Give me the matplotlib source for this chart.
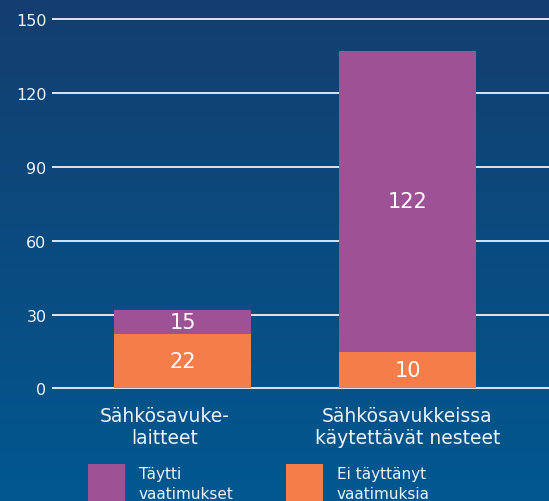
import numpy as np
import matplotlib
matplotlib.use("Agg")
import matplotlib.pyplot as plt
import matplotlib.transforms as mtransforms
from matplotlib.colors import LinearSegmentedColormap

# data
categories = ["Sähkösavuke-\nlaitteet", "Sähkösavukkeissa\nkäytettävät nesteet"]
ei_tayttanyt = [22, 15]      # orange, bottom segment (bar height)
taytti = [10, 122]           # purple, top segment (bar height)
label_ei = ["22", "10"]      # printed labels as in the original
label_taytti = ["15", "122"]
series_names = ["Täytti\nvaatimukset", "Ei täyttänyt\nvaatimuksia"]
yticks = [0, 30, 60, 90, 120, 150]

c_purple = "#9e5296"
c_orange = "#f47d4a"
c_text = "#eef3f8"
c_grid = "#dde5ee"

plt.rcParams["font.family"] = "DejaVu Sans"

fig = plt.figure(figsize=(5.49, 5.02), dpi=100)

# gradient background
bg = fig.add_axes([0, 0, 1, 1], zorder=-10)
cmap = LinearSegmentedColormap.from_list("bg", ["#143e6f", "#015890"])
grad = np.linspace(0, 1, 256).reshape(-1, 1)
bg.imshow(grad, aspect="auto", cmap=cmap, extent=[0, 1, 0, 1], origin="upper")
bg.set_axis_off()

ax = fig.add_axes([52 / 549, 0.2192, 1 - 52 / 549, 0.7459])
ax.set_facecolor("none")
x = np.arange(len(categories))
w = 0.609

b1 = ax.bar(x, ei_tayttanyt, width=w, color=c_orange, zorder=3)
b2 = ax.bar(x, taytti, width=w, bottom=ei_tayttanyt, color=c_purple, zorder=3)

for i in range(len(x)):
    ax.text(x[i], ei_tayttanyt[i] / 2, label_ei[i], ha="center", va="center",
            color="white", fontsize=15, zorder=4)
    ax.text(x[i], ei_tayttanyt[i] + taytti[i] / 2, label_taytti[i], ha="center",
            va="center", color="white", fontsize=15, zorder=4)

ax.set_ylim(-1, 151)
ax.set_xlim(-0.58, 1.629)
ax.set_yticks(yticks)
ax.set_yticklabels([str(t) for t in yticks])
ax.grid(axis="y", color=c_grid, lw=1.4, zorder=1)
ax.set_axisbelow(True)
for s in ax.spines.values():
    s.set_visible(False)
ax.tick_params(axis="y", length=0, pad=4, labelsize=11.5, labelcolor=c_text)
ax.tick_params(axis="x", length=0, pad=11, labelsize=13.5, labelcolor=c_text)
ax.set_xticks(x)
ax.set_xticklabels(categories, linespacing=1.2)

# first category label sits a bit left of its bar in the original
lab0 = ax.get_xticklabels()[0]
lab0.set_transform(lab0.get_transform() +
                   mtransforms.ScaledTranslation(-18 / 100, 0, fig.dpi_scale_trans))

leg = fig.legend([b2, b1], series_names, loc="upper left",
                 bbox_to_anchor=(88 / 549, 1 - 464 / 502), ncol=2, frameon=False,
                 fontsize=11, handlelength=2.42, handleheight=3.4,
                 handletextpad=0.89, columnspacing=3.45, borderpad=0,
                 borderaxespad=0)
shift = mtransforms.ScaledTranslation(0, -3 / 100, fig.dpi_scale_trans)
for t in leg.get_texts():
    t.set_color(c_text)
    t.set_linespacing(1.45)
    t.set_transform(t.get_transform() + shift)

fig.savefig("out.png", dpi=100)
